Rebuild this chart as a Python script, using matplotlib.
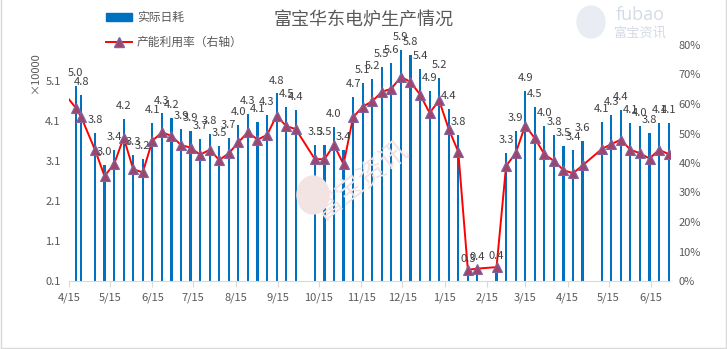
import numpy as np
import pandas as pd
import matplotlib
matplotlib.use('Agg')
import matplotlib.pyplot as plt
import matplotlib.dates as mdates
from matplotlib.patches import Rectangle, Ellipse
from matplotlib.lines import Line2D

plt.rcParams['font.family'] = ['Noto Sans CJK SC', 'DejaVu Sans']

# 周度数据（第一个点在坐标轴起点之前，只留下折线的一段）
dates = ['2018-04-13', '2018-04-20', '2018-04-24', '2018-05-04', '2018-05-11', '2018-05-18',
         '2018-05-25', '2018-06-01', '2018-06-08', '2018-06-15', '2018-06-22', '2018-06-29',
         '2018-07-06', '2018-07-13', '2018-07-20', '2018-07-27', '2018-08-03', '2018-08-10',
         '2018-08-17', '2018-08-24', '2018-08-31', '2018-09-07', '2018-09-14', '2018-09-21',
         '2018-09-28', '2018-10-12', '2018-10-19', '2018-10-26', '2018-11-02', '2018-11-09',
         '2018-11-16', '2018-11-23', '2018-11-30', '2018-12-07', '2018-12-14', '2018-12-21',
         '2018-12-28', '2019-01-04', '2019-01-11', '2019-01-18', '2019-01-25', '2019-02-01',
         '2019-02-08', '2019-02-22', '2019-03-01', '2019-03-08', '2019-03-15', '2019-03-22',
         '2019-03-29', '2019-04-05', '2019-04-12', '2019-04-19', '2019-04-26', '2019-05-10',
         '2019-05-17', '2019-05-24', '2019-05-31', '2019-06-07', '2019-06-14', '2019-06-21',
         '2019-06-28']

# 实际日耗（×10000）
daily = [np.nan, 4.98, 4.76, 3.80, 3.00, 3.38,
         4.16, 3.26, 3.16, 4.06, 4.29, 4.18,
         3.90, 3.86, 3.66, 3.78, 3.48, 3.68,
         4.00, 4.28, 4.08, 4.26, 4.79, 4.46,
         4.38, 3.50, 3.50, 3.96, 3.37, 4.70,
         5.06, 5.16, 5.46, 5.56, 5.88, 5.75,
         5.40, 4.86, 5.18, 4.40, 3.76, 0.34,
         0.38, 0.40, 3.31, 3.86, 4.86, 4.46,
         3.98, 3.76, 3.48, 3.38, 3.60, 4.08,
         4.26, 4.38, 4.06, 3.98, 3.80, 4.06,
         4.06]

# 产能利用率（%，右轴）
util = [62.7, 58.7, 55.5, 44.5, 35.6, 39.6,
        48.6, 37.9, 36.8, 47.5, 50.4, 49.2,
        46.1, 45.2, 42.8, 44.5, 41.0, 43.3,
        47.0, 50.5, 47.9, 49.5, 56.1, 52.5,
        51.5, 41.3, 41.3, 46.1, 39.6, 55.5,
        59.1, 60.9, 64.1, 65.2, 69.2, 67.5,
        63.2, 57.0, 61.2, 51.5, 43.8, 3.8,
        4.2, 4.7, 39.0, 43.3, 52.7, 48.4,
        43.0, 40.7, 37.6, 36.5, 39.2, 44.7,
        46.4, 47.9, 44.5, 43.3, 41.5, 44.5,
        43.0]

tick_dates = ['2018-04-15', '2018-05-15', '2018-06-15', '2018-07-15', '2018-08-15',
              '2018-09-15', '2018-10-15', '2018-11-15', '2018-12-15', '2019-01-15',
              '2019-02-15', '2019-03-15', '2019-04-15', '2019-05-15', '2019-06-15']
tick_labels = ['4/15', '5/15', '6/15', '7/15', '8/15', '9/15', '10/15', '11/15',
               '12/15', '1/15', '2/15', '3/15', '4/15', '5/15', '6/15']
left_ticks = [0.1, 1.1, 2.1, 3.1, 4.1, 5.1]
right_ticks = [0, 10, 20, 30, 40, 50, 60, 70, 80]

W, H = 727, 349
grey = '#595959'

fig = plt.figure(figsize=(W / 100, H / 100), dpi=100)
ax = fig.add_axes([69 / W, 1 - 281 / H, (670 - 69) / W, (281 - 45) / H])
ax2 = ax.twinx()

x = pd.to_datetime(dates)
ax.bar(x, daily, width=1.6, color='#0070C0', zorder=2)

ax2.plot(x, np.array(util) / 100, color='#FF0000', lw=1.4, zorder=3,
         marker='^', ms=6.5, mfc='#A0456A', mec='#8064A2', mew=0.8,
         markevery=list(range(1, len(x))))

# 数据标签（画在折线之上）
for xi, v in zip(x, daily):
    if np.isnan(v):
        continue
    ax2.annotate(f'{v:.1f}', xy=(mdates.date2num(xi), v), xycoords=ax.transData,
                 xytext=(0, 7), textcoords='offset points', ha='center', va='baseline',
                 fontsize=8, color='#404040', zorder=5)

ax.set_xlim(pd.Timestamp('2018-04-15'), pd.Timestamp('2019-06-29'))
ax.set_ylim(0.1, 6.0)
ax2.set_ylim(0, 0.8)

ax.set_xticks(pd.to_datetime(tick_dates))
ax.set_xticklabels(tick_labels)
ax.set_yticks(left_ticks)
ax.set_yticklabels([f'{t:.1f}' for t in left_ticks])
ax2.set_yticks([t / 100 for t in right_ticks])
ax2.set_yticklabels([f'{t}%' for t in right_ticks])

for a in (ax, ax2):
    for s in a.spines.values():
        s.set_visible(False)
ax.spines['bottom'].set_visible(True)
ax.spines['bottom'].set_color('#d9d9d9')
ax.tick_params(axis='x', length=4, color='#d9d9d9', labelsize=8, labelcolor=grey, pad=4)
ax.tick_params(axis='y', length=0, labelsize=8, labelcolor=grey, pad=6)
ax2.tick_params(axis='y', length=0, labelsize=8, labelcolor=grey, pad=6)

fig.text(35 / W, 1 - 73 / H, '×10000', rotation=90, ha='center', va='center',
         fontsize=8, color=grey)
fig.text(364 / W, 1 - 20 / H, '富宝华东电炉生产情况', ha='center', va='center',
         fontsize=13, color=grey)

handles = [Rectangle((0, 0), 1, 1, color='#0070C0'),
           Line2D([], [], color='#FF0000', lw=1.4, marker='^', ms=6.5,
                  mfc='#A0456A', mec='#8064A2')]
fig.legend(handles, ['实际日耗', '产能利用率（右轴）'], loc='upper left',
           bbox_to_anchor=(106 / W, 1 - 11 / H), frameon=False, fontsize=8.5,
           labelcolor=grey, handlelength=2.2, handletextpad=0.4, labelspacing=1.0,
           borderpad=0, borderaxespad=0)

# 水印
fig.add_artist(Ellipse((591 / W, 1 - 22 / H), 28 / W, 32 / H, transform=fig.transFigure,
                       color='#e9edf3', zorder=0))
fig.text(640 / W, 1 - 15 / H, 'fubao', ha='center', va='center', fontsize=13,
         color='#d5dbe4', family=['Open Sans', 'DejaVu Sans'])
fig.text(640 / W, 1 - 33 / H, '富宝资讯', ha='center', va='center', fontsize=9.5,
         color='#d5dbe4')
fig.add_artist(Ellipse((313 / W, 1 - 195 / H), 32 / W, 38 / H, transform=fig.transFigure,
                       color='#f3e4e4', zorder=1))
fig.text(362 / W, 1 - 180 / H, '富宝资讯', ha='center', va='center', fontsize=20,
         rotation=38, color='#f3e2e2', zorder=1)

# 外框
for xs, ys in [([1.5 / W, 1.5 / W], [1, 1.5 / H]),
               ([1.5 / W, 725.5 / W], [1.5 / H, 1.5 / H]),
               ([725.5 / W, 725.5 / W], [1.5 / H, 1])]:
    fig.add_artist(Line2D(xs, ys, transform=fig.transFigure, color='#d9d9d9', lw=1))

fig.savefig('out.png', dpi=100)
